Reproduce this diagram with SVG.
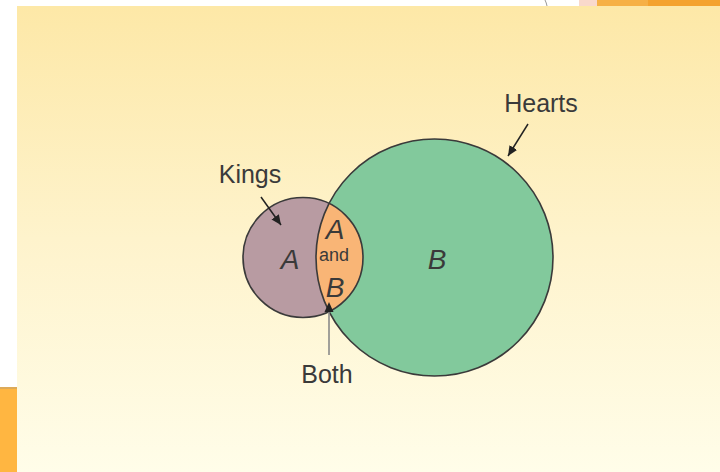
<svg xmlns="http://www.w3.org/2000/svg" width="720" height="472" viewBox="0 0 720 472">
<defs>
<linearGradient id="bg" x1="0" y1="0" x2="0" y2="1">
<stop offset="0" stop-color="#fde8a7"/>
<stop offset="0.5" stop-color="#fef3cc"/>
<stop offset="1" stop-color="#fffde9"/>
</linearGradient>
<marker id="ah" markerUnits="userSpaceOnUse" markerWidth="12" markerHeight="10" refX="10" refY="4.5" orient="auto">
<path d="M0,0 L10,4.5 L0,9 Z" fill="#222"/>
</marker>
<style>
.lbl{font-family:"Liberation Sans",Arial,sans-serif;font-size:25px;fill:#3a3a3a;text-anchor:middle}
.it{font-family:"Liberation Sans",Arial,sans-serif;font-size:28px;font-style:italic;fill:#3a3a3a;text-anchor:middle}
.sm{font-family:"Liberation Sans",Arial,sans-serif;font-size:18px;fill:#3a3a3a;text-anchor:middle}
.outline{fill:none;stroke:#3a3a3a;stroke-width:1.6}
.arr{stroke:#222;stroke-width:1.5;fill:none;marker-end:url(#ah)}
</style>
</defs>
<rect x="0" y="0" width="720" height="472" fill="#ffffff"/>
<rect x="579" y="0" width="18" height="6" fill="#f9d9cc"/>
<rect x="597" y="0" width="52" height="6" fill="#f6b046"/>
<rect x="648" y="0" width="72" height="6" fill="#f4a22e"/>
<path d="M545,0 Q546.5,3 547,6" stroke="#999" stroke-width="1" fill="none"/>
<rect x="0" y="387" width="17" height="85" fill="#ffb641"/>
<rect x="0" y="387" width="17" height="2" fill="#dcaa5a"/>
<rect x="17" y="6" width="703" height="466" fill="url(#bg)"/>
<g id="hearts">
<circle cx="434.5" cy="257.5" r="118.5" fill="#82c99c"/>
</g>
<g id="kings">
<circle cx="303" cy="257.5" r="60" fill="#b89ba2"/>
</g>
<g id="both">
<path d="M329,203.5 A60,60 0 0 1 329,311.5 A118.5,118.5 0 0 1 329,203.5 Z" fill="#f9b576"/>
</g>
<circle class="outline" cx="434.5" cy="257.5" r="118.5"/>
<circle class="outline" cx="303" cy="257.5" r="60"/>
<g id="labels">
<text class="it" x="290" y="269">A</text>
<text class="it" x="437" y="269">B</text>
<text class="it" x="335" y="239">A</text>
<text class="sm" x="334" y="261">and</text>
<text class="it" x="335" y="297">B</text>
<text class="lbl" x="250" y="183">Kings</text>
<text class="lbl" x="541" y="112">Hearts</text>
<text class="lbl" x="327" y="383">Both</text>
</g>
<g id="connectors">
<line class="arr" x1="261" y1="197" x2="281" y2="225"/>
<line class="arr" x1="528" y1="124" x2="508" y2="156"/>
<line x1="329" y1="355" x2="329" y2="312" stroke="#8a8a8a" stroke-width="1.6"/>
<path d="M329,302 L333.5,312 L324.5,312 Z" fill="#222"/>
</g>
</svg>
